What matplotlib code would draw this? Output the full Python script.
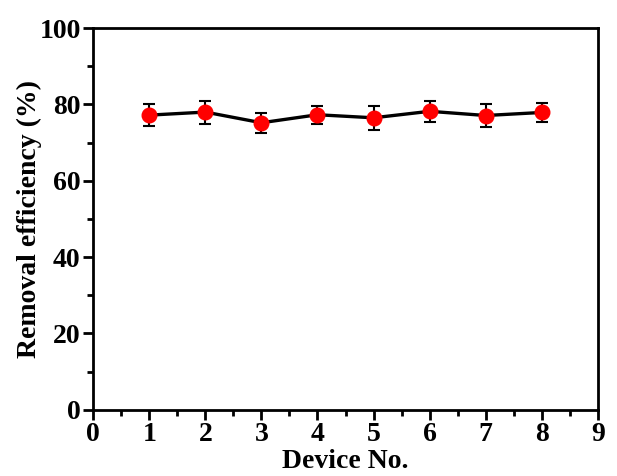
import numpy as np
import matplotlib
matplotlib.use("Agg")
import matplotlib.pyplot as plt
from matplotlib.ticker import MultipleLocator

# data
device = [1, 2, 3, 4, 5, 6, 7, 8]
efficiency = [77.2, 78.0, 75.2, 77.3, 76.5, 78.2, 77.1, 77.9]
err = [2.9, 3.0, 2.6, 2.3, 3.2, 2.8, 3.1, 2.5]

plt.rcParams['font.family'] = ['Liberation Serif', 'DejaVu Serif']
plt.rcParams['font.weight'] = 'bold'
plt.rcParams['font.size'] = 20

fig = plt.figure(figsize=(6.17, 4.76), dpi=100)
ax = fig.add_axes([0.151, 0.139, 0.818, 0.802])

ax.errorbar(device, efficiency, yerr=err, color='black', lw=2.4,
            marker='o', markersize=10.5, markerfacecolor='red',
            markeredgecolor='red', ecolor='black', elinewidth=1.5,
            capsize=4, capthick=1.5)

ax.set_xlim(0, 9)
ax.set_ylim(0, 100)
ax.xaxis.set_major_locator(MultipleLocator(1))
ax.xaxis.set_minor_locator(MultipleLocator(0.5))
ax.yaxis.set_major_locator(MultipleLocator(20))
ax.yaxis.set_minor_locator(MultipleLocator(10))
ax.tick_params(which='both', direction='out', width=2, top=False, right=False)
ax.tick_params(which='major', length=7, pad=2)
ax.tick_params(which='minor', length=4)
for s in ax.spines.values():
    s.set_linewidth(2)

ax.set_xlabel('Device No.', fontweight='bold', labelpad=1)
ax.set_ylabel('Removal efficiency (%)', fontweight='bold', labelpad=-2)

fig.savefig('out.png', dpi=100)
